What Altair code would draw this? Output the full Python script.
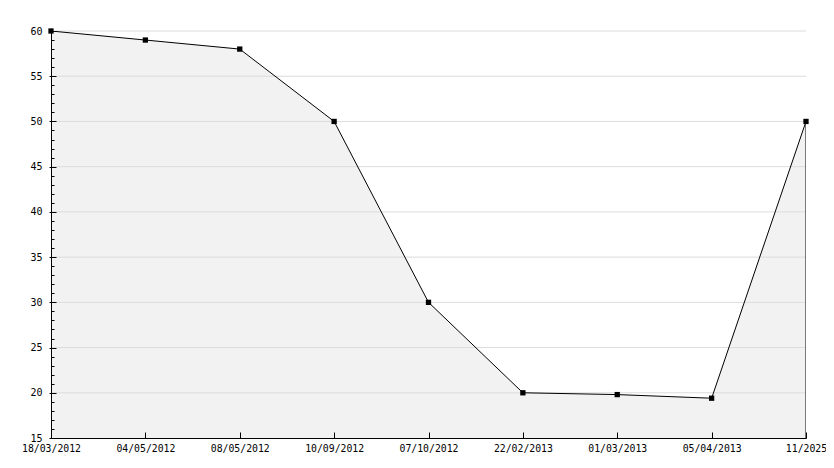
import altair as alt
import pandas as pd

dates = ["18/03/2012", "04/05/2012", "08/05/2012", "10/09/2012", "07/10/2012",
         "22/02/2013", "01/03/2013", "05/04/2013", "11/2025"]
values = [60, 59, 58, 50, 30, 20, 19.8, 19.4, 50]
y_major = [15, 20, 25, 30, 35, 40, 45, 50, 55, 60]
y_minor = list(range(15, 61))

df = pd.DataFrame({"date": dates, "value": values})
grid_df = pd.DataFrame({"tick": y_major[1:]})

W, H = 755, 407
FONT = "DejaVu Sans Mono"

xscale = alt.Scale(type="point", padding=0, domain=dates)
yscale = alt.Scale(domain=[15, 60], nice=False, zero=False)

fill = alt.Chart(df).mark_area(
    fill="#f2f2f2", interpolate="linear", clip=True
).encode(
    x=alt.X("date:N", sort=None, scale=xscale, title=None,
            axis=alt.Axis(orient="bottom", ticks=False, labelAngle=0,
                          labelFont=FONT, labelFontSize=9.8, labelColor="black",
                          labelPadding=5, domainColor="black", grid=False,
                          labelOverlap=False, labelFlush=False, zindex=1)),
    y=alt.Y("value:Q", scale=yscale, title=None,
            axis=alt.Axis(orient="left", values=y_major, tickSize=2,
                          tickColor="black", domainColor="black",
                          labelFont=FONT, labelFontSize=10, labelColor="black",
                          labelPadding=7, grid=False, zindex=1)),
)

grid = alt.Chart(grid_df).mark_rule(color="#dcdcdc", strokeWidth=1).encode(
    y=alt.Y("tick:Q", scale=yscale, axis=None),
)

outline = alt.Chart(df).mark_area(
    fill="white", fillOpacity=0, stroke="black", strokeWidth=1,
    interpolate="linear", clip=True
).encode(
    x=alt.X("date:N", sort=None, scale=xscale, title=None, axis=None),
    y=alt.Y("value:Q", scale=yscale, title=None, axis=None),
)

points = alt.Chart(df).mark_point(
    shape="square", filled=True, color="black", size=28, opacity=1
).encode(
    x=alt.X("date:N", sort=None, scale=xscale, title=None,
            axis=alt.Axis(orient="top", offset=-H, tickSize=6, tickColor="black",
                          labels=False, domain=False, grid=False, zindex=1)),
    y=alt.Y("value:Q", scale=yscale, title=None,
            axis=alt.Axis(orient="right", offset=-W, values=y_minor,
                          tickSize={"condition": {"test": "datum.value % 5 === 0", "value": 5}, "value": 3},
                          tickColor="black", labels=False, domain=False, grid=False,
                          zindex=1)),
)

chart = alt.layer(fill, grid, outline, points).resolve_scale(
    x="independent", y="independent"
).properties(
    width=W, height=H,
    autosize=alt.AutoSizeParams(type="none"),
    padding={"left": 43, "top": 23, "right": 20, "bottom": 22},
    background="white",
).configure_view(stroke=None)

chart.save("out.html", embed_options={"renderer": "svg", "actions": False})
